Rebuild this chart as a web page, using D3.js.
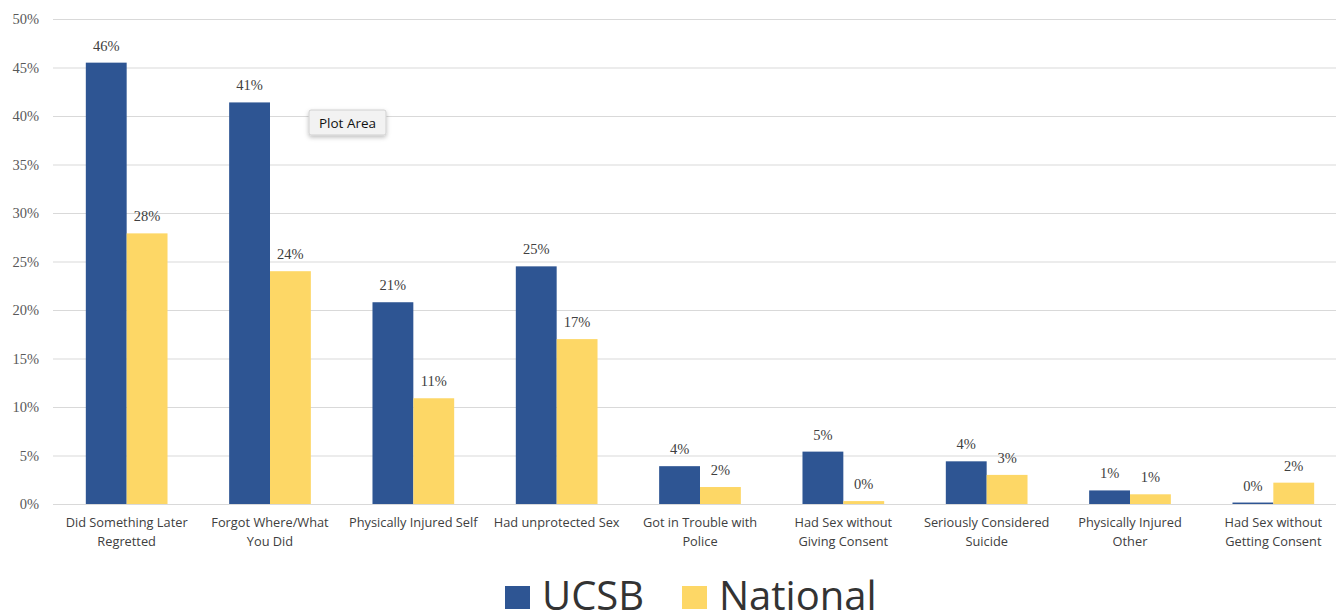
<!DOCTYPE html>
<html><head><meta charset="utf-8">
<script src="https://cdn.jsdelivr.net/npm/d3@7"></script>
<style>body{margin:0;background:#fff;}svg{display:block;}</style>
</head><body>
<svg id="c" width="1336" height="616"></svg>
<script>
const categories = [
  ["Did Something Later","Regretted"],
  ["Forgot Where/What","You Did"],
  ["Physically Injured Self"],
  ["Had unprotected Sex"],
  ["Got in Trouble with","Police"],
  ["Had Sex without","Giving Consent"],
  ["Seriously Considered","Suicide"],
  ["Physically Injured","Other"],
  ["Had Sex without","Getting Consent"]
];
const seriesNames = ["UCSB","National"];
const ucsb = [45.5, 41.4, 20.8, 24.5, 3.9, 5.4, 4.4, 1.4, 0.15];
const national = [27.9, 24.0, 10.9, 17.0, 1.75, 0.3, 3.0, 1.0, 2.2];
const yTicks = [0,5,10,15,20,25,30,35,40,45,50];
const colors = ["#2e5593","#fdd766"];

const svg = d3.select("#c");
const W = 1336, H = 616;
const m = {left:55, right:-9, top:19, bottom:112};
const x0 = d3.scaleBand().domain(d3.range(categories.length)).range([m.left, W - m.right]).paddingInner(0.43).paddingOuter(0.215);
const x1 = d3.scaleBand().domain([0,1]).range([0, x0.bandwidth()]);
const y = d3.scaleLinear().domain([0,50]).range([H - m.bottom, m.top]);

// gridlines
svg.append("g").selectAll("line").data(yTicks).join("line")
  .attr("x1", m.left-2).attr("x2", W).attr("y1", d=>y(d)+0.5).attr("y2", d=>y(d)+0.5)
  .attr("stroke", "#d9d9d9").attr("stroke-width", 1);

// y axis labels
const yAxis = d3.axisLeft(y).tickValues(yTicks).tickFormat(d=>d+"%").tickSize(0).tickPadding(16);
const ya = svg.append("g").attr("transform", `translate(${m.left},0)`).call(yAxis);
ya.select(".domain").remove();
ya.selectAll("text").attr("font-family","Liberation Serif, Times New Roman, serif").attr("font-size",14.5).attr("fill","#595959");

const data = categories.map((c,i)=>({i, vals:[ucsb[i], national[i]]}));
const g = svg.append("g").selectAll("g").data(data).join("g").attr("transform", d=>`translate(${x0(d.i)},0)`);
g.selectAll("rect").data(d=>d.vals.map((v,k)=>({v,k}))).join("rect")
  .attr("x", d=>x1(d.k)).attr("width", x1.bandwidth())
  .attr("y", d=>y(d.v)).attr("height", d=>y(0)-y(d.v)).attr("fill", d=>colors[d.k]);
g.selectAll("text.v").data(d=>d.vals.map((v,k)=>({v,k}))).join("text").attr("class","v")
  .attr("x", d=>x1(d.k)+x1.bandwidth()/2).attr("y", d=>y(d.v)-12)
  .attr("text-anchor","middle").attr("font-family","Liberation Serif, Times New Roman, serif")
  .attr("font-size",14.5).attr("fill","#404040").text(d=>Math.round(d.v)+"%");

// x axis labels
const xl = svg.append("g").selectAll("text").data(categories).join("text")
  .attr("x", (d,i)=>x0(i)+x0.bandwidth()/2).attr("y", 527)
  .attr("text-anchor","middle").attr("font-family","Open Sans, Noto Sans, sans-serif")
  .attr("font-size",12.8).attr("fill","#404040");
xl.selectAll("tspan").data(d=>d).join("tspan")
  .attr("x", function(){return d3.select(this.parentNode).attr("x");})
  .attr("dy", (d,j)=>j===0?0:19).text(d=>d);

// legend
const leg = svg.append("g");
const legX = [505, 682];
seriesNames.forEach((n,k)=>{
  leg.append("rect").attr("x", legX[k]).attr("y", 586).attr("width", 25).attr("height", 23).attr("fill", colors[k]);
  leg.append("text").attr("x", legX[k]+37).attr("y", 610).attr("font-family","Open Sans, Noto Sans, sans-serif")
    .attr("font-size",40).attr("fill","#333").text(n);
});

// tooltip
const tt = svg.append("g").attr("transform","translate(309,110)");
const defs = svg.append("defs");
const f = defs.append("filter").attr("id","sh").attr("x","-20%").attr("y","-30%").attr("width","140%").attr("height","180%");
f.append("feDropShadow").attr("dx",0).attr("dy",2).attr("stdDeviation",2).attr("flood-color","#000").attr("flood-opacity",0.25);
tt.append("rect").attr("width",77).attr("height",25).attr("rx",2).attr("fill","#f2f2f2").attr("stroke","#d0d0d0").attr("filter","url(#sh)");
tt.append("text").attr("x",38.5).attr("y",17.5).attr("text-anchor","middle").attr("font-family","Open Sans, Noto Sans, sans-serif").attr("font-size",13.5).attr("fill","#111").text("Plot Area");
</script>
</body></html>
